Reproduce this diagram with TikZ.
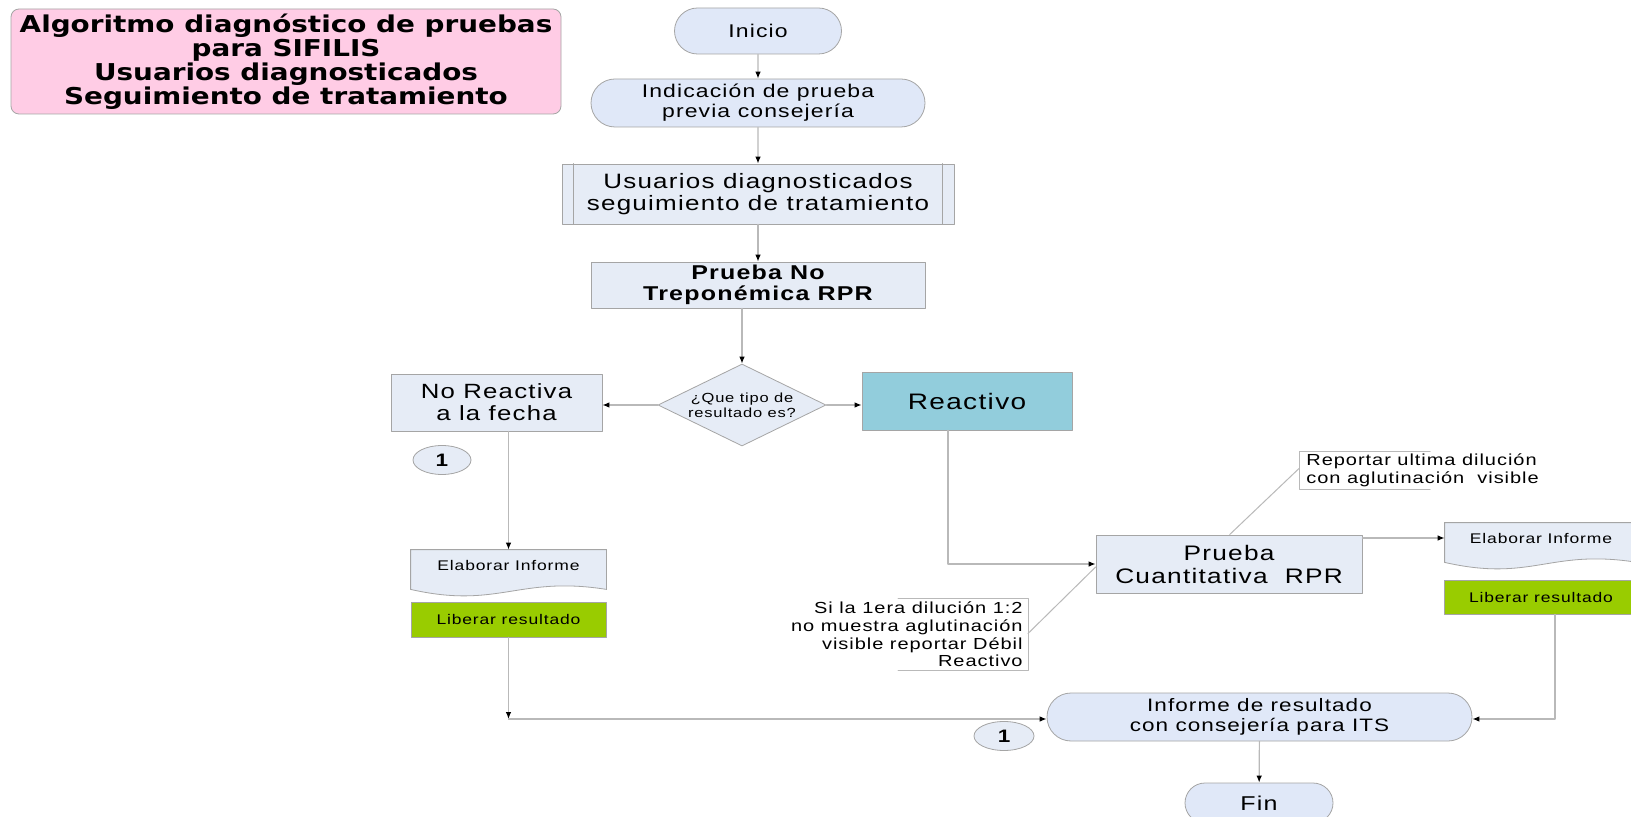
\documentclass[tikz,border=0pt]{standalone}
\usepackage{fontspec}
\setmainfont{Liberation Sans}[FakeStretch=1.25,LetterSpace=6]
\newfontfamily\titulofont{DejaVu Sans}[FakeStretch=1.2]
\usetikzlibrary{shapes.geometric,shapes.misc,arrows.meta,calc,backgrounds}

\definecolor{cajafill}{RGB}{230,236,246}
\definecolor{stadfill}{RGB}{224,232,248}
\definecolor{borde}{RGB}{165,165,165}
\definecolor{linea}{RGB}{185,185,185}
\definecolor{reacfill}{RGB}{146,205,220}
\definecolor{verde}{RGB}{153,204,0}
\definecolor{rosa}{RGB}{255,204,229}
\newcommand\letra[2]{\fontsize{#1}{#2}\selectfont}

\begin{document}
\begin{tikzpicture}[line cap=round, line join=round, x=0.5pt, y=-0.5pt,
    caja/.style={draw=borde, fill=cajafill, inner sep=0pt, align=center, text=black},
    terminal/.style={caja, rounded rectangle, fill=stadfill},
    documento/.style={inner sep=0pt, align=center, text=black, font=\letra{7}{8}},
    liberar/.style={caja, fill=verde, font=\letra{7}{8}},
    conector/.style={ellipse, caja, font=\bfseries\letra{9}{10}},
    nota/.style={inner sep=0pt, text=black, font=\letra{8}{8.8}},
    notaline/.style={draw=linea, line width=0.5pt},
    conn/.style={draw=linea, line width=0.6pt, -{Latex[black,length=3.5pt,width=2.8pt]}}]
\useasboundingbox (0,0) rectangle (1631,817);
\node[caja, fill=rosa, rounded corners=4pt, minimum width=275pt, minimum height=52.5pt,
      font=\titulofont\bfseries\letra{11.6}{12}] (titulo) at (286,61.5)
      {Algoritmo diagnóstico de pruebas\\para SIFILIS\\Usuarios diagnosticados\\Seguimiento de tratamiento};
\node[terminal, minimum width=83.5pt, minimum height=23pt, font=\letra{9.2}{10}] (inicio) at (758,31) {Inicio};
\node[terminal, minimum width=167pt, minimum height=24pt, font=\letra{9.2}{10}] (indic) at (758,103) {Indicación de prueba\\previa consejería};
\node[caja, minimum width=196pt, minimum height=30pt, font=\letra{10.4}{11}] (usu) at (758,194) {Usuarios diagnosticados\\seguimiento de tratamiento};
\node[caja, minimum width=167pt, minimum height=23pt, font=\bfseries\letra{10}{10.5}] (rpr) at (758,285) {Prueba No\\Treponémica RPR};
\node[caja, diamond, aspect=2, minimum width=84pt, minimum height=41pt, font=\letra{6.6}{7.5}] (tipo) at (742,405) {¿Que tipo de\\resultado es?};
\node[caja, minimum width=105.5pt, minimum height=28.5pt, font=\letra{10.3}{11}] (noreac) at (496.5,402.5) {No Reactiva\\a la fecha};
\node[caja, fill=reacfill, minimum width=105pt, minimum height=29pt, font=\letra{11.2}{12}] (reac) at (967,401) {Reactivo};
\node[conector, minimum width=29pt, minimum height=14.5pt] (uno1) at (442,460) {1};
\node[documento, minimum width=97.5pt, minimum height=15pt] (infoL) at (508.5,565) {Elaborar Informe};
\node[liberar, minimum width=97.5pt, minimum height=17.5pt] (libL) at (508.5,619.5) {Liberar resultado};
\node[caja, minimum width=133pt, minimum height=29pt, font=\letra{10.5}{11.5}] (cuant) at (1229,564) {Prueba\\Cuantitativa\ \ RPR};
\node[documento, minimum width=96pt, minimum height=15pt] (infoR) at (1541,538) {Elaborar Informe};
\node[liberar, minimum width=97pt, minimum height=17pt] (libR) at (1541,597) {Liberar resultado};
\node[nota, anchor=west, inner xsep=3.5pt, minimum height=18.5pt, align=left] (notaR) at (1299,470.5)
      {Reportar ultima dilución\\con aglutinación\ \ visible};
\node[nota, anchor=east, inner xsep=2.5pt, minimum height=35.5pt, align=right] (notaL) at (1028,634.5)
      {Si la 1era dilución 1:2\\no muestra aglutinación\\visible reportar Débil\\Reactivo};
\node[terminal, minimum width=212.5pt, minimum height=24pt, font=\letra{9}{10}] (informe) at (1259.5,717) {Informe de resultado\\con consejería para ITS};
\node[conector, minimum width=30pt, minimum height=14.5pt] (uno2) at (1004,736) {1};
\node[terminal, minimum width=74pt, minimum height=20pt, font=\letra{10}{11}] (fin) at (1259,803) {Fin};
\coordinate (esqL) at (508.5,719);
\coordinate (esqR) at (1555,719);

\begin{scope}[on background layer]
\fill[white] (0,0) rectangle (1631,817);
\foreach \d in {infoL, infoR}
    \filldraw[draw=borde, fill=cajafill] (\d.north west) -- (\d.north east) -- ($(\d.south east)+(0,9)$)
        .. controls +(-88,-14) and +(88,20) .. ($(\d.south west)+(0,9)$) -- cycle;
\end{scope}
\foreach \lado/\dx in {west/12, east/-12}
    \draw[borde] ($(usu.north \lado)+(\dx,0)$) -- ($(usu.south \lado)+(\dx,0)$);

\draw[conn] (inicio) -- (indic);
\draw[conn] (indic) -- (usu);
\draw[conn] (usu) -- (rpr);
\draw[conn] (rpr.south -| tipo.north) -- (tipo.north);
\draw[conn] (tipo.west) -- (tipo.west -| noreac.east);
\draw[conn] (tipo.east) -- (tipo.east -| reac.west);
\draw[conn] (noreac.south -| infoL.north) -- (infoL.north);
\draw[conn] (libL) -- (esqL);
\draw[conn] (esqL) -- (esqL -| informe.west);
\draw[conn] ($(reac.south)+(-19,0)$) |- (cuant.west);
\draw[conn] (cuant.east |- infoR.west) -- (infoR.west);
\draw[conn] (libR.south -| esqR) -- (esqR) -- (esqR -| informe.east);
\draw[conn] (informe) -- (fin);

\draw[notaline] ($(notaR.north west)+(131,0)$) -- (notaR.north west) -- (notaR.south west) -- ($(notaR.south west)+(131,0)$);
\draw[notaline] ($(notaL.north east)+(-130,0)$) -- (notaL.north east) -- (notaL.south east) -- ($(notaL.south east)+(-130,0)$);
\draw[notaline] ($(cuant.north west)+(134,0)$) -- ($(notaR.west)+(0,-2)$);
\draw[notaline] ($(notaL.east)+(0,-1)$) -- ($(cuant.west)+(0,3)$);
\end{tikzpicture}
\end{document}
